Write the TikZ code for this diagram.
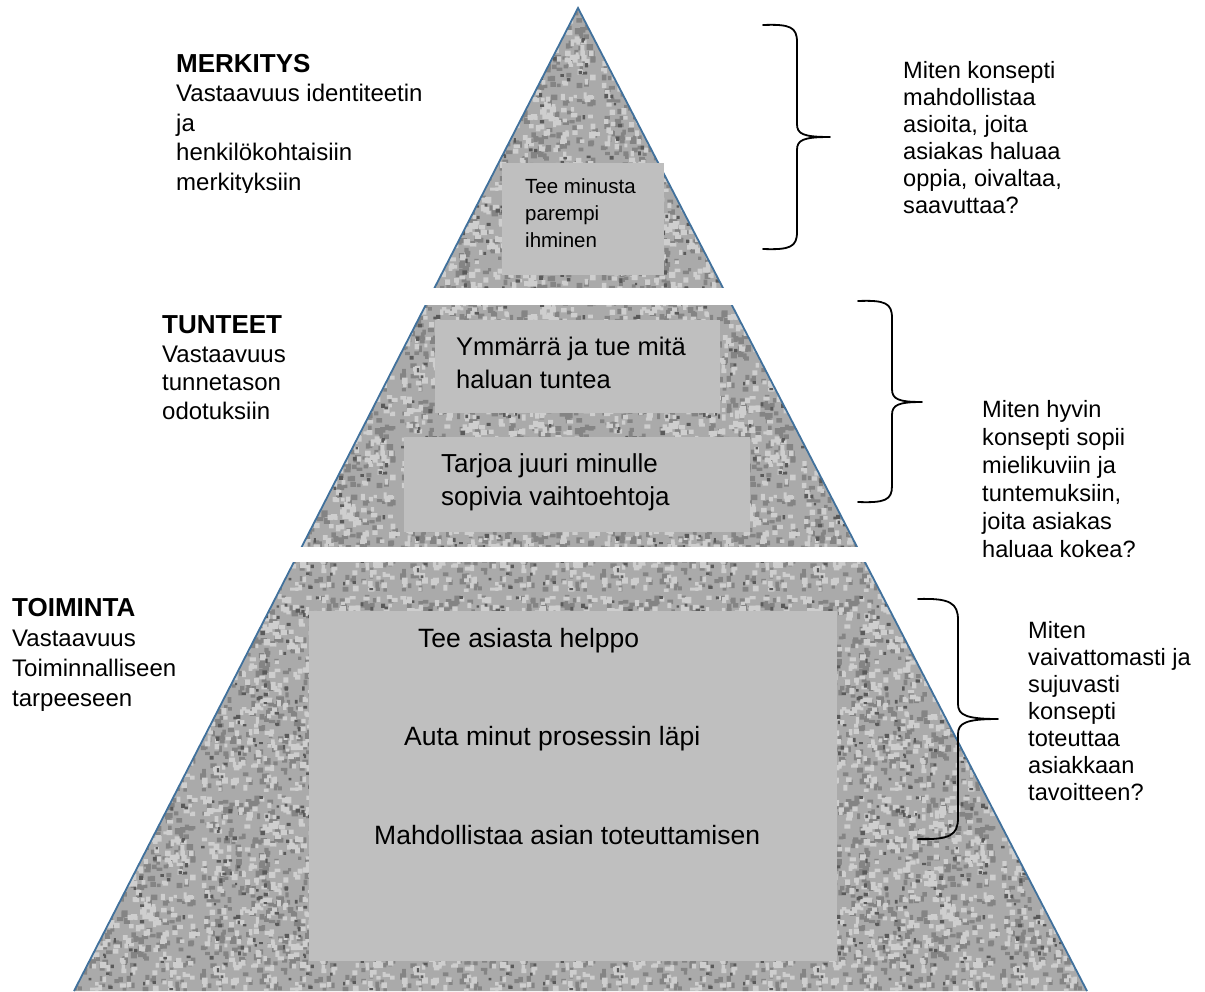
\documentclass[tikz,border=0pt]{standalone}
\usepackage{fontspec}
\setmainfont{Liberation Sans}
\usetikzlibrary{patterns}
\definecolor{edgeblue}{RGB}{65,113,156}
\definecolor{boxgray}{RGB}{191,191,191}
\definecolor{stone}{RGB}{170,170,170}
\definecolor{stonedark}{RGB}{132,132,132}
\definecolor{stonedeep}{RGB}{90,90,90}
\definecolor{stonelight}{RGB}{206,206,206}
\newcount\noisei
\newcommand\noiselayer[4]{% color, count, min size, size range
  \pgfsetfillcolor{#1}%
  \noisei=0
  \loop
    \pgfmathsetmacro\nxx{194*rnd}\pgfmathsetmacro\nyy{194*rnd}%
    \pgfmathsetmacro\nww{#3+#4*rnd}\pgfmathsetmacro\nhh{#3+#4*rnd}%
    \pgfpathrectangle{\pgfqpoint{\nxx pt}{\nyy pt}}{\pgfqpoint{\nww pt}{\nhh pt}}%
    \advance\noisei by 1
  \ifnum\noisei<#2\repeat
  \pgfusepath{fill}%
}
\pgfdeclarepatterninherentlycolored{stonenoise}
  {\pgfpointorigin}{\pgfqpoint{200pt}{200pt}}{\pgfqpoint{200pt}{200pt}}
  {%
    \pgfmathsetseed{11}%
    \noiselayer{stonedark}{460}{3}{3.5}%
    \noiselayer{stonelight}{460}{3}{3.5}%
    \noiselayer{stonedeep}{110}{2}{2.5}%
  }
\tikzset{
  box/.style={fill=boxgray, draw=none, inner sep=0pt, anchor=north west},
  lbl/.style={anchor=base west, inner sep=0pt, align=left},
  bracestyle/.style={draw=black, line width=1.8pt, line cap=round, line join=round},
}
\begin{document}
\begin{tikzpicture}[x=1pt,y=-1pt]
\useasboundingbox (0,0) rectangle (1205,991);
\coordinate (apex) at (578,8);
\coordinate (bl) at (74,991);
\coordinate (br) at (1087,991);
% textured pyramid
\fill[stone] (apex) -- (br) -- (bl) -- cycle;
\fill[pattern=stonenoise] (apex) -- (br) -- (bl) -- cycle;
\draw[edgeblue, line width=1.8pt] (bl) -- (apex) -- (br);
% gaps between tiers
\fill[white] (400,288) rectangle (760,305);
\fill[white] (270,547) rectangle (890,562);
% inner boxes
\node[box, minimum width=162pt, minimum height=112pt] (b1) at (502,163) {};
\node[box, minimum width=285pt, minimum height=93pt] (b2a) at (435,320) {};
\node[box, minimum width=346pt, minimum height=95pt] (b2b) at (404,437) {};
\node[box, minimum width=528pt, minimum height=350pt] (b3) at (309,611) {};
% box texts (anchored at the baseline of the last line)
\node[lbl, font=\fontsize{20.5}{27}\selectfont] (t1) at (525,247) {Tee minusta\\parempi\\ihminen};
\node[lbl, font=\fontsize{25.5}{33}\selectfont] (t2a) at (456,388) {Ymmärrä ja tue mitä\\haluan tuntea};
\node[lbl, font=\fontsize{26}{33}\selectfont] (t2b) at (441,505) {Tarjoa juuri minulle\\sopivia vaihtoehtoja};
\node[lbl, font=\fontsize{26.5}{32}\selectfont] (t3a) at (418,647) {Tee asiasta helppo};
\node[lbl, font=\fontsize{26.5}{32}\selectfont] (t3b) at (404,745) {Auta minut prosessin läpi};
\node[lbl, font=\fontsize{26.5}{32}\selectfont] (t3c) at (374,844) {Mahdollistaa asian toteuttamisen};
% left labels
\begin{scope}
  \clip (150,0) rectangle (460,192);
  \node[lbl, font=\fontsize{24}{29.5}\selectfont] (lm) at (176,190) {{\fontsize{26}{29.5}\selectfont\bfseries MERKITYS}\\Vastaavuus identiteetin\\ja\\henkilökohtaisiin\\merkityksiin};
\end{scope}
\node[lbl, font=\fontsize{24}{28.5}\selectfont] (lt) at (162,419) {{\fontsize{26}{28.5}\selectfont\bfseries TUNTEET}\\Vastaavuus\\tunnetason\\odotuksiin};
\node[lbl, font=\fontsize{24}{30}\selectfont] (lto) at (12,706) {{\fontsize{26}{30}\selectfont\bfseries TOIMINTA}\\Vastaavuus\\Toiminnalliseen\\tarpeeseen};
% right labels
\node[lbl, font=\fontsize{23.6}{27}\selectfont] (rm) at (903,213) {Miten konsepti\\mahdollistaa\\asioita, joita\\asiakas haluaa\\oppia, oivaltaa,\\saavuttaa?};
\node[lbl, font=\fontsize{23.6}{28}\selectfont] (rt) at (982,557) {Miten hyvin\\konsepti sopii\\mielikuviin ja\\tuntemuksiin,\\joita asiakas\\haluaa kokea?};
\node[lbl, font=\fontsize{23.6}{27}\selectfont] (rto) at (1028,800) {Miten\\vaivattomasti ja\\sujuvasti\\konsepti\\toteuttaa\\asiakkaan\\tavoitteen?};
% braces
\draw[bracestyle] (763,25) .. controls (790,24) and (797,27) .. (797,42) -- (797,124)
  .. controls (797,134) and (803,137) .. (830,137)
  .. controls (803,137) and (797,140) .. (797,150) -- (797,232)
  .. controls (797,247) and (790,250) .. (763,249);
\draw[bracestyle] (858,301) .. controls (885,300) and (892,303) .. (892,318) -- (892,389)
  .. controls (892,399) and (898,402) .. (922,402)
  .. controls (898,402) and (892,405) .. (892,415) -- (892,486)
  .. controls (892,500) and (885,503) .. (858,502);
\draw[bracestyle] (918,599) .. controls (950,598) and (958,603) .. (958,620) -- (958,704)
  .. controls (958,715) and (966,719) .. (998,719)
  .. controls (966,719) and (958,723) .. (958,734) -- (958,818)
  .. controls (958,835) and (950,840) .. (918,839);
\end{tikzpicture}
\end{document}
